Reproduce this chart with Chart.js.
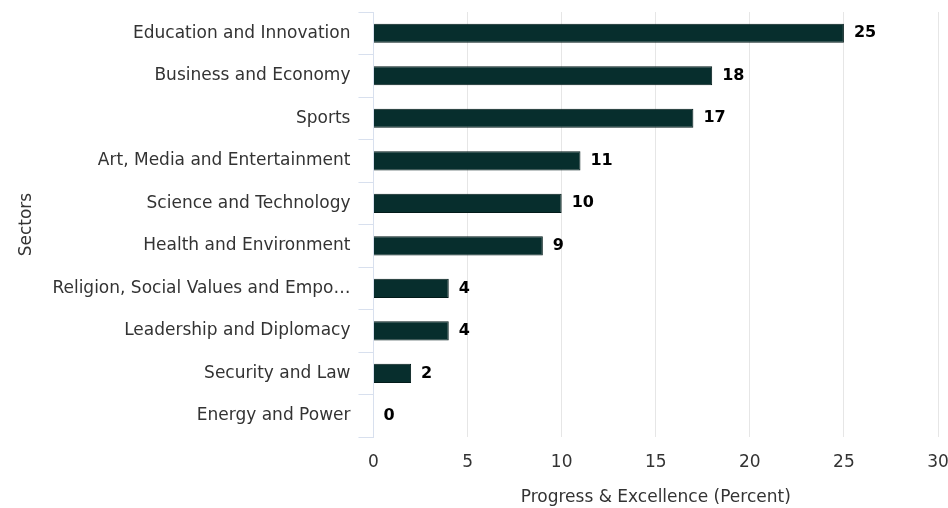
<!DOCTYPE html>
<html>
<head>
<meta charset="utf-8">
<script src="https://cdn.jsdelivr.net/npm/chart.js@4"></script>
<style>
  html, body { margin: 0; padding: 0; background: #fff; }
  #wrap { width: 948px; height: 508px; }
</style>
</head>
<body>
<div id="wrap"><canvas id="chart"></canvas></div>
<script>
// Sector scores
const sectors = [
    'Education and Innovation',
    'Business and Economy',
    'Sports',
    'Art, Media and Entertainment',
    'Science and Technology',
    'Health and Environment',
    'Religion, Social Values and Empo\u2026',
    'Leadership and Diplomacy',
    'Security and Law',
    'Energy and Power'
];
const scores = [25, 18, 17, 11, 10, 9, 4, 4, 2, 0];
const xTicks = [0, 5, 10, 15, 20, 25, 30];

const FONT = 'DejaVu Sans';

// draws the bold value next to each bar
const valueLabels = {
    id: 'valueLabels',
    afterDatasetsDraw(chart) {
        const ctx = chart.ctx;
        const meta = chart.getDatasetMeta(0);
        ctx.save();
        ctx.font = 'bold 16px ' + FONT;
        ctx.fillStyle = '#000';
        ctx.textBaseline = 'middle';
        ctx.textAlign = 'left';
        meta.data.forEach((bar, i) => {
            ctx.fillText(String(scores[i]), bar.x + 10, bar.y);
        });
        ctx.restore();
    }
};

new Chart(document.getElementById('chart'), {
    type: 'bar',
    data: {
        labels: sectors,
        datasets: [{
            data: scores,
            backgroundColor: '#072e2d',
            borderColor: '#021a19',
            borderWidth: 1,
            barPercentage: 0.45,
            categoryPercentage: 1.0
        }]
    },
    options: {
        indexAxis: 'y',
        responsive: true,
        maintainAspectRatio: false,
        animation: false,
        layout: { padding: { top: 0, right: 0, left: 12, bottom: 0 } },
        plugins: {
            legend: { display: false },
            tooltip: { enabled: false }
        },
        scales: {
            x: {
                min: 0,
                max: 30,
                afterBuildTicks: axis => { axis.ticks = xTicks.map(v => ({ value: v })); },
                afterFit: axis => { axis.paddingRight = 10; },
                border: { display: false },
                grid: { color: '#e6e6e6', drawTicks: false },
                ticks: { color: '#333', font: { family: FONT, size: 17 }, padding: 15 },
                title: {
                    display: true,
                    text: 'Progress & Excellence (Percent)',
                    color: '#333',
                    font: { family: FONT, size: 17 },
                    padding: { top: 0, bottom: 0 }
                }
            },
            y: {
                afterFit: axis => { axis.paddingTop = 12; axis.paddingBottom = 0; },
                border: { display: true, color: '#d8e0ee' },
                grid: { drawOnChartArea: false, color: '#d8e0ee', tickLength: 15 },
                ticks: { color: '#333', font: { family: FONT, size: 17 }, padding: 8 },
                title: {
                    display: true,
                    text: 'Sectors',
                    color: '#333',
                    font: { family: FONT, size: 17 },
                    padding: { bottom: 8 }
                }
            }
        }
    },
    plugins: [valueLabels]
});
</script>
</body>
</html>
